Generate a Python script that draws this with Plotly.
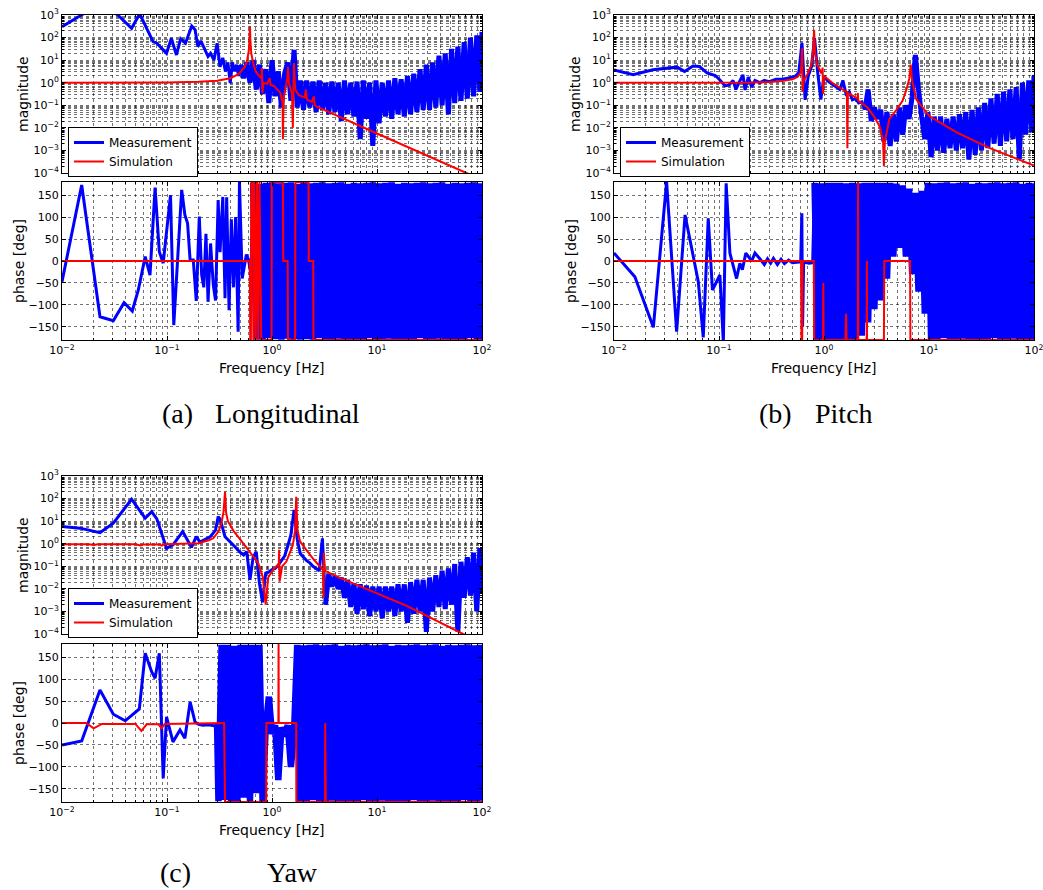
import plotly.graph_objects as go

W, H = 1043, 890
BLUE = '#0000ff'
RED = '#ff0000'
GRID = 'rgba(0,0,0,0.55)'
SANS = 'DejaVu Sans'
SERIF = 'Liberation Serif'

# ---------------------------------------------------------------------------
# Frequency bins (Hz) of the measured spectra above 0.3 Hz, shared by all
# measurement traces; each dense value list covers the tail of this grid.
FD = [0.309, 0.331, 0.355, 0.380, 0.407, 0.437, 0.468, 0.501, 0.537, 0.575,
      0.617, 0.661, 0.708, 0.759, 0.813, 0.871, 0.933, 1.000, 1.072, 1.148,
      1.230, 1.318, 1.413, 1.514, 1.622, 1.738, 1.862, 1.995, 2.138, 2.291,
      2.455, 2.630, 2.818, 3.020, 3.236, 3.467, 3.715, 3.981, 4.266, 4.571,
      4.898, 5.248, 5.623, 6.026, 6.457, 6.918, 7.413, 7.943, 8.511, 9.120,
      9.772, 10.47, 11.22, 12.02, 12.88, 13.80, 14.79, 15.85, 16.98, 18.20,
      19.50, 20.89, 22.39, 23.99, 25.70, 27.54, 29.51, 31.62, 33.88, 36.31,
      38.90, 41.69, 44.67, 47.86, 51.29, 54.95, 58.88, 63.10, 67.61, 72.44,
      77.62, 83.18, 89.13, 95.50, 100.0]

# ---------------------------- (a) Longitudinal -----------------------------
# magnitudes are given as log10 values
A_MAG_LO_F = [0.010, 0.016, 0.022, 0.034, 0.046, 0.055, 0.0736, 0.080, 0.099, 0.110,
              0.123, 0.135, 0.150, 0.172, 0.185, 0.197, 0.210, 0.225, 0.246, 0.260,
              0.280, 0.300, 0.320, 0.340, 0.360, 0.380, 0.400, 0.420, 0.440, 0.460,
              0.480]
A_MAG_LO = [2.48, 3.05, 3.6, 3.0, 2.41, 3.05, 1.82, 1.75, 1.30, 1.97,
            1.23, 1.95, 1.75, 2.51, 2.35, 1.60, 1.85, 1.55, 1.16, 1.30,
            1.00, 1.75, 0.71, 1.10, 0.50, 0.90, -0.02, 0.90, 0.50, 0.80,
            0.30]
A_MAG_HI = [0.8, 0.2, 0.9, 0.0, 1.0, -0.3, 0.8, -0.5, 0.6, -0.9,
            1.0, -0.6, 0.5, -1.1, 0.4, 0.9, -0.8, 1.45, -1.1, 0.1,
            -1.2, 0.1, -1.1, 0.05, -1.3, 0.1, -1.2, 0.0, -1.4, 0.05,
            -1.3, 0.0, -1.7, 0.1, -1.4, 0.0, -1.5, 0.05, -2.5, 0.1,
            -1.6, 0.0, -2.8, 0.1, -1.8, 0.0, -1.5, 0.1, -1.6, 0.2,
            -1.4, 0.15, -1.5, 0.3, -1.4, 0.4, -1.3, 0.6, -1.2, 0.8,
            -1.2, 0.9, -1.1, 1.2, -1.0, 1.3, -1.4, 1.5, -0.9, 1.6,
            -0.8, 1.8, -0.7, 2.0, -0.6, 2.1, -0.4, 2.25]
A_SIM_F = [0.01, 0.1, 0.2, 0.3, 0.4, 0.48, 0.55, 0.58, 0.60, 0.612,
           0.617, 0.622, 0.635, 0.66, 0.70, 0.76, 0.79, 0.80, 0.81, 0.83,
           0.90, 0.95, 0.97, 1.05, 1.20, 1.26, 1.27, 1.29, 1.40, 1.42,
           1.45, 1.55, 1.58, 1.60, 1.62, 1.66, 1.80, 2.05, 2.10, 2.15,
           2.40, 2.50, 2.55, 2.67, 10.0, 71.0, 100.0]
A_SIM_MAG = [0.0, 0.01, 0.04, 0.09, 0.2, 0.38, 0.7, 1.0, 1.4, 1.9,
             2.5, 1.9, 1.3, 0.9, 0.5, 0.28, 0.2, 0.65, -0.46, 0.0,
             -0.05, 0.2, -0.1, -0.15, -0.45, -0.9, -2.5, -0.7, 0.2, 0.7,
             0.0, -0.5, -2.0, -0.3, 0.87, -0.3, -0.55, -0.65, -0.3, -0.75,
             -0.85, -0.6, -1.0, -1.06, -2.25, -4.0, -4.3]
A_PH_LO_F = [0.010, 0.0154, 0.023, 0.0308, 0.039, 0.0467, 0.0533, 0.062, 0.0689, 0.077,
             0.0845, 0.092, 0.108, 0.116, 0.138, 0.148, 0.157, 0.166, 0.178, 0.190,
             0.203, 0.214, 0.224, 0.235, 0.246, 0.260, 0.276, 0.290, 0.307, 0.320,
             0.340, 0.357, 0.370, 0.390, 0.410, 0.430, 0.450, 0.476, 0.490, 0.520,
             0.570, 0.600, 0.630]
A_PH_LO = [-47, 173, -127, -136, -95, -114, -66, 10, -32, 167,
           21, -5, 150, -146, 162, 105, 86, 2, 2, -91,
           101, -32, -60, 62, -93, 40, -55, -90, 139, 20,
           146, -85, 145, -112, 95, -60, 100, -161, 180, -40,
           15, 0, -30]
A_PH_HI = [178, -178, 175, -179, 178, -176, 179, -178, 177, -179,
           178, -177, 179, -178, 176, -179, 178, -178, 177, -179,
           178, -176, 179, -178, 177, -179, 178, -177, 179, -178,
           176, -179, 178, -178, 177, -179, 178, -176, 179, -178,
           177, -179, 178, -177, 179, -178, 176, -179, 178, -178,
           177, -179, 178, -176, 179, -178, 177, -179, 178, -177,
           179, -178, 176, -179, 178, -178, 177, -179, 178, -176,
           179, -178, 177, -179]
A_SIM_PH_F = [0.01, 0.615, 0.62, 0.63, 0.635, 0.66, 0.665, 0.68, 0.70, 0.72,
              0.74, 0.76, 0.79, 0.82, 0.99, 0.995, 1.27, 1.28, 1.41, 1.42,
              1.66, 1.67, 2.23, 2.24, 2.47, 2.48, 100.0]
A_SIM_PH = [0, 0, -180, -180, 180, 180, -180, 180, -180, 180,
            -180, 180, -180, -180, -180, 180, 180, 0, 0, -180,
            -180, 180, 180, 0, 0, -180, -180]

# ------------------------------- (b) Pitch ---------------------------------
B_MAG_LO_F = [0.010, 0.0152, 0.0235, 0.0398, 0.047, 0.0565, 0.065, 0.077, 0.092, 0.102,
              0.114, 0.125, 0.136, 0.145, 0.155, 0.169, 0.177, 0.190, 0.205, 0.220,
              0.245, 0.270, 0.300, 0.350, 0.400, 0.450]
B_MAG_LO = [0.57, 0.35, 0.57, 0.69, 0.50, 0.74, 0.72, 0.43, 0.32, 0.12,
            -0.14, -0.10, 0.10, -0.30, 0.00, 0.35, -0.32, 0.25, -0.20, 0.10,
            0.00, 0.10, 0.05, 0.15, 0.15, 0.20]
B_MAG_HI = [0.25, 0.30, 0.45, 1.76, -0.76, 0.30, 0.70, 1.98, 0.45, -0.75,
            0.30, 0.10, 0.00, -0.10, -0.20, -0.30, 0.10, -0.50, -0.40, -0.76,
            -0.70, -0.90, -0.85, -1.20, -0.30, -1.70, -1.10, -1.60, -1.20, -2.60,
            -1.30, -2.80, -1.40, -2.60, -1.10, -2.30, -1.00, -1.60, -0.60, 1.23,
            -0.30, -1.50, -2.50, -1.30, -3.30, -1.50, -3.00, -1.50, -3.10, -1.60,
            -2.90, -1.50, -3.00, -1.40, -2.90, -1.30, -3.40, -1.20, -3.20, -1.10,
            -3.00, -0.90, -2.90, -0.70, -2.70, -0.50, -2.80, -0.40, -2.60, -0.30,
            -2.50, -0.20, -3.40, 0.00, -2.30, 0.10, -2.20, 0.30]
B_SIM_F = [0.01, 0.2, 0.3, 0.4, 0.5, 0.56, 0.60, 0.61, 0.62, 0.625,
           0.64, 0.70, 0.76, 0.79, 0.805, 0.82, 0.86, 0.95, 0.97, 0.98,
           1.00, 1.20, 1.50, 1.65, 1.67, 1.69, 2.00, 2.09, 2.10, 2.12,
           2.60, 3.00, 3.40, 3.65, 3.72, 3.80, 4.20, 4.90, 5.60, 6.10,
           6.50, 6.70, 6.90, 7.60, 10.2, 18.3, 38.0, 100.0]
B_SIM_MAG = [0.0, 0.01, 0.03, 0.07, 0.15, 0.25, 0.45, 0.8, 1.53, -0.4,
             0.1, 0.4, 0.8, 1.5, 2.34, 1.4, 0.8, 0.4, 0.67, -0.5,
             0.3, 0.0, -0.3, -0.4, -2.9, -0.45, -0.65, -0.7, -0.46, -0.8,
             -1.1, -1.5, -1.95, -2.6, -3.7, -2.6, -1.6, -1.2, -0.8, -0.3,
             0.2, 0.8, 0.1, -0.76, -1.5, -2.2, -2.9, -3.67]
B_PH_LO_F = [0.010, 0.0158, 0.0237, 0.0317, 0.0395, 0.0475, 0.0635, 0.0708, 0.079, 0.0866,
             0.102, 0.110, 0.117, 0.127, 0.147, 0.158, 0.167, 0.180, 0.205, 0.220,
             0.245, 0.270, 0.290, 0.310, 0.330, 0.360, 0.390, 0.420, 0.460, 0.500,
             0.550, 0.600, 0.615, 0.625, 0.640, 0.660, 0.720, 0.780]
B_PH_LO = [18, -36, -151, 180, -161, 105, -47, -174, 97, -66,
           -32, -185, 177, 18, -40, -5, -20, 18, 0, 18,
           5, -8, 5, -5, 6, -8, 4, -6, 2, -4,
           -3, -2, 109, -150, -2, -3, -5, -4]
B_PH_HI = [178, -178, 177, -179, 178, -181, 178, -181, 178, -178,
           177, -179, 178, -178, 177, -170, 178, -140, 178, -110,
           178, -90, 178, -40, 178, 10, 176, 30, 172, 10,
           165, -30, 155, -70, 160, -120, 178, -178, 177, -179,
           178, -176, 179, -178, 177, -179, 178, -177, 179, -178,
           176, -179, 178, -178, 177, -179, 178, -176, 179, -178,
           177, -179, 178, -177, 179, -178, 176, -179, 178, -178,
           177]
B_SIM_PH_F = [0.01, 0.605, 0.61, 0.62, 0.625, 0.80, 0.805, 0.98, 0.985, 0.99,
              1.60, 1.62, 1.64, 2.10, 2.11, 2.12, 2.55, 2.56, 2.57, 3.72,
              3.75, 6.60, 6.65, 100.0]
B_SIM_PH = [0, 0, -180, -180, 0, 0, -180, -180, -50, -180,
            -180, -120, -180, -180, 180, -180, -180, 0, -180, -180,
            0, 0, -180, -180]

# -------------------------------- (c) Yaw ----------------------------------
C_MAG_LO_F = [0.010, 0.0148, 0.023, 0.0308, 0.046, 0.062, 0.0714, 0.080, 0.099, 0.114,
              0.141, 0.171, 0.190, 0.206, 0.257, 0.290, 0.307, 0.320, 0.357, 0.430]
C_MAG_LO = [0.76, 0.69, 0.49, 0.91, 1.97, 1.13, 1.42, 1.10, -0.20, -0.05,
            0.54, -0.16, 0.31, 0.07, 0.30, 0.60, 1.20, 1.10, 0.31, -0.07]
C_MAG_HI = [-0.40, -0.50, -0.35, -1.60, -0.60, -0.35, -1.75, -2.60, -1.30, -1.25,
            -1.15, -1.10, -0.95, -0.75, -0.55, -0.10, 0.39, 1.50, 0.20, -0.45,
            -0.60, -0.75, -0.85, -1.00, -1.10, -1.20, 0.24, -2.70, -1.35, -1.90,
            -1.45, -2.00, -1.50, -2.40, -1.60, -2.80, -1.75, -3.10, -1.80, -2.90,
            -1.85, -3.20, -1.90, -3.00, -1.90, -3.30, -1.90, -3.00, -1.90, -3.20,
            -1.80, -3.00, -1.80, -3.50, -1.70, -3.10, -1.60, -3.00, -1.60, -3.90,
            -1.50, -3.00, -1.40, -2.80, -1.20, -2.90, -1.10, -2.70, -0.90, -3.90,
            -0.80, -2.40, -0.60, -2.30, -0.40, -3.00, -0.20, -2.20]
C_SIM_F = [0.010, 0.018, 0.020, 0.022, 0.050, 0.056, 0.060, 0.085, 0.089, 0.095,
           0.200, 0.250, 0.276, 0.310, 0.330, 0.345, 0.357, 0.365, 0.380, 0.430,
           0.570, 0.740, 0.820, 0.870, 0.920, 1.020, 1.160, 1.170, 1.180, 1.250,
           1.370, 1.580, 1.660, 1.700, 1.750, 1.850, 2.120, 2.500, 2.860, 3.050,
           3.100, 3.120, 3.200, 4.400, 19.20, 66.00, 100.0]
C_SIM_MAG = [-0.02, -0.02, -0.06, -0.02, -0.02, -0.08, -0.03, -0.03, -0.08, -0.02,
             0.02, 0.15, 0.24, 0.55, 0.92, 1.40, 2.30, 1.40, 1.00, 0.57,
             -0.16, -0.86, -1.50, -2.70, -1.50, -1.16, -0.90, -0.27, -1.68, -1.00,
             -0.79, -0.06, 0.60, 2.08, 0.60, 0.10, -0.27, -0.70, -1.01, -1.15,
             -2.40, -0.40, -1.20, -1.50, -2.75, -4.00, -4.35]
C_PH_LO_F = [0.010, 0.0154, 0.023, 0.0308, 0.040, 0.0545, 0.062, 0.0714, 0.077, 0.0845,
             0.092, 0.099, 0.114, 0.133, 0.148, 0.166, 0.185, 0.200, 0.220, 0.250,
             0.280, 0.300]
C_PH_LO = [-50, -41, 75, 20, 5, 32, 159, 117, 102, 159,
           -126, 14, -43, -16, -35, 48, 2, -3, -5, -4,
           -6, -5]
C_PH_HI = [-178, 178, -175, 178, -178, 176, -178, 178, -170, 178,
           -178, 178, -160, 178, -178, -10, 60, -25, -5, -130,
           -10, -30, -5, -100, -20, 178, -178, 177, -179, 178,
           -176, 179, -178, 177, -179, 178, -177, 179, -178, 176,
           -179, 178, -178, 177, -179, 178, -176, 179, -178, 177,
           -179, 178, -177, 179, -178, 176, -179, 178, -178, 177,
           -179, 178, -176, 179, -178, 177, -179, 178, -177, 179,
           -178, 176, -179, 178, -178, 177, -179, 178, -176, 179,
           -178, 177, -179, 178, -177]
C_SIM_PH_F = [0.010, 0.017, 0.020, 0.024, 0.050, 0.057, 0.064, 0.083, 0.089, 0.095,
              0.350, 0.357, 0.880, 0.885, 1.150, 1.155, 1.160, 1.700, 1.705, 3.200,
              3.210, 3.250, 100.0]
C_SIM_PH = [0, 0, -12, -2, -2, -18, -3, -3, -12, -2,
            0, -180, -180, 0, 0, 180, 0, 0, -180, -180,
            0, -180, -180]

# ------------------------------ tick labels --------------------------------
X_TICKS = [0.01, 0.1, 1, 10, 100]
X_TICK_TEXT = ['10<sup>−2</sup>', '10<sup>−1</sup>', '10<sup>0</sup>',
               '10<sup>1</sup>', '10<sup>2</sup>']
MAG_TICKS = [1e-4, 1e-3, 1e-2, 1e-1, 1, 10, 100, 1000]
MAG_TICK_TEXT = ['10<sup>−4</sup>', '10<sup>−3</sup>', '10<sup>−2</sup>',
                 '10<sup>−1</sup>', '10<sup>0</sup>', '10<sup>1</sup>',
                 '10<sup>2</sup>', '10<sup>3</sup>']
PH_TICKS = [-150, -100, -50, 0, 50, 100, 150]
PH_TICK_TEXT = ['−150', '−100', '−50', '0', '50', '100', '150']

CAPTIONS = [('(a)', 'Longitudinal'), ('(b)', 'Pitch'), ('(c)', 'Yaw')]
LEGEND_NAMES = ['Measurement', 'Simulation']

X_MINOR = [m * 10.0 ** e for e in range(-2, 2) for m in range(2, 10)]
Y_MINOR = [m * 10.0 ** e for e in range(-4, 3) for m in range(2, 10)]


def joined(lo_f, lo_v, hi_v):
    """Sparse low-frequency points followed by the dense tail of FD."""
    return list(lo_f) + FD[len(FD) - len(hi_v):], list(lo_v) + list(hi_v)


def unlog(vals):
    return [10.0 ** v for v in vals]


PANELS = [
    dict(x=(62, 482), mag=(15, 173), ph=(182, 340), leg='legend', leg_xy=(68, 127),
         cap=CAPTIONS[0], cap_x=(160, 213), cap_y=413, ylab_x=(23, 19), flab_y=368,
         mag_split=0.5, ph_split=0.66,
         meas_mag=joined(A_MAG_LO_F, A_MAG_LO, A_MAG_HI), sim_mag=(A_SIM_F, A_SIM_MAG),
         meas_ph=joined(A_PH_LO_F, A_PH_LO, A_PH_HI), sim_ph=(A_SIM_PH_F, A_SIM_PH)),
    dict(x=(614, 1034), mag=(15, 173), ph=(182, 340), leg='legend2', leg_xy=(620, 127),
         cap=CAPTIONS[1], cap_x=(757, 813), cap_y=413, ylab_x=(575, 571), flab_y=368,
         mag_split=2.3, ph_split=0.8,
         meas_mag=joined(B_MAG_LO_F, B_MAG_LO, B_MAG_HI), sim_mag=(B_SIM_F, B_SIM_MAG),
         meas_ph=joined(B_PH_LO_F, B_PH_LO, B_PH_HI), sim_ph=(B_SIM_PH_F, B_SIM_PH)),
    dict(x=(62, 482), mag=(476, 634), ph=(644, 802), leg='legend3', leg_xy=(68, 588),
         cap=CAPTIONS[2], cap_x=(158, 265), cap_y=872, ylab_x=(23, 19), flab_y=830,
         mag_split=3.2, ph_split=0.3,
         meas_mag=joined(C_MAG_LO_F, C_MAG_LO, C_MAG_HI), sim_mag=(C_SIM_F, C_SIM_MAG),
         meas_ph=joined(C_PH_LO_F, C_PH_LO, C_PH_HI), sim_ph=(C_SIM_PH_F, C_SIM_PH)),
]


def xdom(a, b):
    return [a / W, b / W]


def ydom(top, bot):
    return [1 - bot / H, 1 - top / H]


def frame(**kw):
    base = dict(showline=True, linecolor='black', linewidth=1, mirror='allticks',
                ticks='inside', ticklen=4, tickcolor='black', zeroline=False,
                automargin=False, ticklabeloverflow='allow',
                showgrid=True, gridcolor=GRID, gridwidth=1, griddash='dot',
                tickfont=dict(family=SANS, size=11, color='black'))
    base.update(kw)
    return base


fig = go.Figure()


def add_measured(f, v, split, thick, xa, ya, legend=None):
    """Measured trace: thin line below `split`, wider stroke over the dense bins."""
    lo = [(a, b) for a, b in zip(f, v) if a < split]
    hi = [(a, b) for a, b in zip(f, v) if a >= split]
    thin = lo + hi[:1]
    fig.add_trace(go.Scatter(x=[a for a, _ in thin], y=[b for _, b in thin], mode='lines',
                             name=LEGEND_NAMES[0], showlegend=legend is not None,
                             legend=legend or 'legend', legendgroup=f'm{xa}',
                             line=dict(color=BLUE, width=3, simplify=False),
                             xaxis=xa, yaxis=ya))
    fig.add_trace(go.Scatter(x=[a for a, _ in hi], y=[b for _, b in hi], mode='lines',
                             showlegend=False, legendgroup=f'm{xa}',
                             line=dict(color=BLUE, width=thick, simplify=False),
                             xaxis=xa, yaxis=ya))


layout = dict(width=W, height=H, margin=dict(l=0, r=0, t=0, b=0, autoexpand=False),
              paper_bgcolor='white', plot_bgcolor='white', showlegend=True)
annotations = []

for i, p in enumerate(PANELS):
    nm, nph = 2 * i + 1, 2 * i + 2
    xm, ym = f'x{nm}', f'y{nm}'
    xp, yp = f'x{nph}', f'y{nph}'

    f, v = p['meas_mag']
    add_measured(f, unlog(v), p['mag_split'], 5, xm, ym, legend=p['leg'])
    f, v = p['sim_mag']
    fig.add_trace(go.Scatter(x=f, y=unlog(v), mode='lines', name=LEGEND_NAMES[1],
                             line=dict(color=RED, width=2, simplify=False),
                             xaxis=xm, yaxis=ym, legend=p['leg']))
    f, v = p['meas_ph']
    add_measured(f, v, p['ph_split'], 6.5, xp, yp)
    f, v = p['sim_ph']
    fig.add_trace(go.Scatter(x=f, y=v, mode='lines', showlegend=False,
                             line=dict(color=RED, width=2, simplify=False),
                             xaxis=xp, yaxis=yp))

    minor_x = dict(tickvals=X_MINOR, ticks='inside', ticklen=2, tickcolor='black',
                   showgrid=True, gridcolor=GRID, gridwidth=1, griddash='dot')
    sfx_m = '' if nm == 1 else str(nm)
    layout['xaxis' + sfx_m] = frame(type='log', domain=xdom(*p['x']), anchor=ym,
                                    range=[-2, 2], tickvals=X_TICKS, ticktext=X_TICK_TEXT,
                                    showticklabels=False, minor=minor_x)
    layout['yaxis' + sfx_m] = frame(type='log', domain=ydom(*p['mag']), anchor=xm,
                                    range=[-4, 3], tickvals=MAG_TICKS, ticktext=MAG_TICK_TEXT,
                                    minor=dict(tickvals=Y_MINOR, ticks='inside', ticklen=2,
                                               tickcolor='black', showgrid=True,
                                               gridcolor=GRID, gridwidth=1, griddash='dot'))
    layout['xaxis' + str(nph)] = frame(type='log', domain=xdom(*p['x']), anchor=yp,
                                       range=[-2, 2], tickvals=X_TICKS, ticktext=X_TICK_TEXT,
                                       minor=minor_x)
    layout['yaxis' + str(nph)] = frame(domain=ydom(*p['ph']), anchor=xp, range=[-180, 180],
                                       tickvals=PH_TICKS, ticktext=PH_TICK_TEXT)

    lx, ly = p['leg_xy']
    layout[p['leg']] = dict(x=lx / W, y=1 - ly / H, xanchor='left', yanchor='top',
                            xref='paper', yref='paper',
                            bgcolor='white', bordercolor='black', borderwidth=1,
                            font=dict(family=SANS, size=12, color='black'),
                            itemwidth=30, tracegroupgap=0)

    # axis titles
    mx = (p['x'][0] + p['x'][1]) / 2
    annotations.append(dict(text='magnitude', x=p['ylab_x'][0] / W,
                            y=1 - (p['mag'][0] + p['mag'][1]) / 2 / H, textangle=-90,
                            font=dict(family=SANS, size=14, color='black')))
    annotations.append(dict(text='phase [deg]', x=p['ylab_x'][1] / W,
                            y=1 - (p['ph'][0] + p['ph'][1]) / 2 / H, textangle=-90,
                            font=dict(family=SANS, size=14, color='black')))
    annotations.append(dict(text='Frequency [Hz]', x=mx / W, y=1 - p['flab_y'] / H,
                            font=dict(family=SANS, size=14, color='black')))
    # sub-figure caption
    tag, title = p['cap']
    annotations.append(dict(text=tag, x=p['cap_x'][0] / W, y=1 - p['cap_y'] / H,
                            xanchor='left', font=dict(family=SERIF, size=28, color='black')))
    annotations.append(dict(text=title, x=p['cap_x'][1] / W, y=1 - p['cap_y'] / H,
                            xanchor='left', font=dict(family=SERIF, size=28, color='black')))

for a in annotations:
    a.update(xref='paper', yref='paper', showarrow=False)
    a.setdefault('xanchor', 'center')
    a.setdefault('yanchor', 'middle')

layout['annotations'] = annotations
fig.update_layout(**layout)
fig.write_html('out.html')
